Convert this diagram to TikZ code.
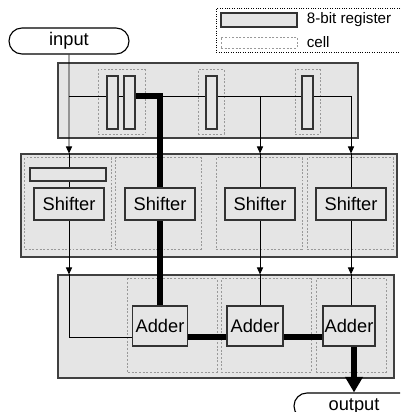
\documentclass[tikz,border=0pt]{standalone}
\usepackage{fontspec}
\setmainfont{Liberation Sans}
\usetikzlibrary{arrows.meta,shapes.misc,positioning}

\pgfdeclarelayer{panels}
\pgfdeclarelayer{wires}
\pgfsetlayers{panels,wires,main}

\tikzset{
  panel/.style={draw=black!75,fill=black!10,line width=0.8pt,inner sep=0},
  cellbox/.style={draw=black!40,dash pattern=on 1.4pt off 1.2pt,line width=0.7pt,inner sep=0},
  regbox/.style={draw=black!80,fill=black!10,line width=0.8pt,inner sep=0},
  unit/.style={draw=black!80,fill=black!10,line width=0.8pt,inner sep=0,
    font=\fontsize{13}{15}\selectfont},
  io/.style={rounded rectangle,draw,line width=0.8pt,minimum width=3cm,
    minimum height=0.65cm,inner sep=0,font=\fontsize{13}{15}\selectfont},
  keytext/.style={inner sep=0,font=\fontsize{10.8}{13}\selectfont},
  wire/.style={line width=0.7pt},
  arr/.style={wire,-{Triangle[length=5pt,width=4.4pt]}},
  bus/.style={line width=4.8pt},
}

\begin{document}
\begin{tikzpicture}[x=0.025cm,y=-0.025cm]
  \useasboundingbox (0,0) rectangle (400,412);
  \clip (0,0) rectangle (400,412);

  % ---------------- stage panels and cells
  \begin{pgfonlayer}{panels}
    \node[panel,minimum width=7.5cm,minimum height=1.875cm] (loadrow) at (208,100.5) {};
    \node[panel,minimum width=9.4cm,minimum height=2.575cm] (shiftrow) at (209,205.5) {};
    \node[panel,minimum width=8.4cm,minimum height=2.575cm] (addrow) at (226,326.5) {};
    % cells of the load row
    \node[cellbox,minimum width=1.175cm,minimum height=1.6cm] (lc1) at (121.5,102) {};
    \node[cellbox,minimum width=0.65cm,minimum height=1.6cm] (lc2) at (211,102) {};
    \node[cellbox,minimum width=0.625cm,minimum height=1.6cm] (lc3) at (307.5,102) {};
    % cells of the shift row
    \node[cellbox,minimum width=2.15cm,minimum height=2.275cm] (sc1) at (68,203.5) {};
    \node[cellbox,minimum width=2.125cm,minimum height=2.275cm] (sc2) at (158.5,203.5) {};
    \node[cellbox,minimum width=2.15cm,minimum height=2.275cm] (sc3) at (259,203.5) {};
    \node[cellbox,minimum width=2.15cm,minimum height=2.275cm] (sc4) at (350,203.5) {};
    % cells of the add row
    \node[cellbox,minimum width=2.225cm,minimum height=2.325cm] (ac1) at (172.5,325.5) {};
    \node[cellbox,minimum width=2.25cm,minimum height=2.325cm] (ac2) at (266,325.5) {};
    \node[cellbox,minimum width=1.75cm,minimum height=2.325cm] (ac3) at (351,325.5) {};
  \end{pgfonlayer}

  % ---------------- input / output
  \node[io] (input) at (69,41) {input};
  \node[io] (output) at (354,406) {output};

  % ---------------- registers
  \node[regbox,minimum width=0.275cm,minimum height=1.325cm] (r1) at (112.5,102.5) {};
  \node[regbox,minimum width=0.275cm,minimum height=1.325cm] (r2) at (129.5,102.5) {};
  \node[regbox,minimum width=0.275cm,minimum height=1.325cm] (r3) at (211.5,102.5) {};
  \node[regbox,minimum width=0.275cm,minimum height=1.325cm] (r4) at (307.5,102.5) {};
  \node[regbox,minimum width=1.9cm,minimum height=0.325cm] (r0) at (68,174.5) {};

  % ---------------- shifters and adders
  \node[unit,minimum width=1.75cm,minimum height=0.8cm] (s1) at (69,204) {Shifter};
  \node[unit,minimum width=1.75cm,minimum height=0.8cm] (s2) at (160,204) {Shifter};
  \node[unit,minimum width=1.75cm,minimum height=0.8cm] (s3) at (260,204) {Shifter};
  \node[unit,minimum width=1.75cm,minimum height=0.8cm] (s4) at (351,204) {Shifter};
  \node[unit,minimum width=1.375cm,minimum height=1cm] (a1) at (160,326) {Adder};
  \node[unit,minimum width=1.4cm,minimum height=1cm] (a2) at (255,326) {Adder};
  \node[unit,minimum width=1.3cm,minimum height=1cm] (a3) at (349,326) {Adder};

  % ---------------- wires
  \coordinate (tap) at (69,96);
  \coordinate (sumrow) at (0,337);
  \begin{pgfonlayer}{wires}
    \draw[wire] (tap) -- (tap -| s4);
    \draw[arr] (input) -- (input |- shiftrow.north);
    \draw[arr] (tap -| s3) -- (s3 |- shiftrow.north);
    \draw[arr] (tap -| s4) -- (s4 |- shiftrow.north);
    \draw[wire] (s1 |- shiftrow.north) -- (s1.north);
    \draw[wire] (s3 |- shiftrow.north) -- (s3.north);
    \draw[wire] (s4 |- shiftrow.north) -- (s4.north);
    \draw[arr] (s1.south) -- (s1 |- addrow.north);
    \draw[arr] (s3.south) -- (s3 |- addrow.north);
    \draw[arr] (s4.south) -- (s4 |- addrow.north);
    \draw[wire] (s3 |- addrow.north) -- (s3 |- a2.north);
    \draw[wire] (s4 |- addrow.north) -- (s4 |- a3.north);
    \draw[wire] (s1 |- addrow.north) |- (a1.west |- sumrow);
    % thick data path
    \draw[bus] (r2.east |- tap) -| (a1.north);
    \draw[bus] (a1.east |- sumrow) -- (a2.west |- sumrow);
    \draw[bus] (a2.east |- sumrow) -- (a3.west |- sumrow);
    \draw[bus,-{Triangle[length=11pt,width=12pt]}] (output |- a3.south) -- (output.north);
  \end{pgfonlayer}

  % ---------------- key
  \node[draw,densely dotted,line width=0.7pt,minimum width=5cm,minimum height=1.1cm,
    anchor=north west] (key) at (216,8) {};
  \node[regbox,minimum width=1.9cm,minimum height=0.35cm] (keyreg) at (259,20) {};
  \node[cellbox,minimum width=1.9cm,minimum height=0.275cm] (keycell) at (259,42.5) {};
  \node[keytext,anchor=west,right=0.225cm of keyreg] (keyregtxt) {8-bit register};
  \node[keytext,anchor=west,right=0.225cm of keycell] (keycelltxt) {cell};

\end{tikzpicture}
\end{document}
